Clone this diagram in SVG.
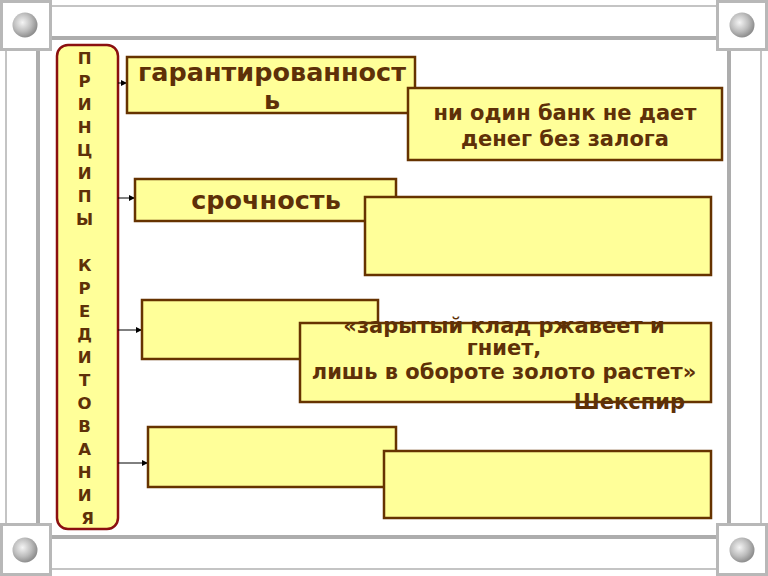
<svg xmlns="http://www.w3.org/2000/svg" width="768" height="576" viewBox="0 0 768 576">
<defs>
<radialGradient id="ball" cx="0.4" cy="0.4" r="0.6">
<stop offset="0" stop-color="#f4f4f4"/>
<stop offset="0.6" stop-color="#bdbdbd"/>
<stop offset="1" stop-color="#8f8f8f"/>
</radialGradient>
<marker id="arr" viewBox="0 0 6 6" refX="6" refY="3" markerWidth="6" markerHeight="6" markerUnits="userSpaceOnUse" orient="auto">
<path d="M0,0 L6,3 L0,6 Z" fill="#000"/>
</marker>
<style>
.thin{stroke:#c4c4c4;stroke-width:2;fill:none}
.thick{stroke:#adadad;stroke-width:4;fill:none}
.corner{fill:#fff;stroke:#b8b8b8;stroke-width:3}
.box{fill:#ffff99;stroke:#663300;stroke-width:2.5}
.t{font-family:"DejaVu Sans",Verdana,sans-serif;font-weight:bold;fill:#5e3008;text-anchor:middle}
.col{font-size:16.5px}
.big{font-size:25.5px}
.mid{font-size:21px}
.conn{stroke:#000;stroke-width:1;fill:none;marker-end:url(#arr)}
</style>
</defs>
<rect width="768" height="576" fill="#fff"/>
<g id="frame">
<line class="thin" x1="52" y1="6" x2="717" y2="6"/>
<line class="thick" x1="52" y1="38" x2="717" y2="38"/>
<line class="thick" x1="52" y1="537" x2="717" y2="537"/>
<line class="thin" x1="52" y1="569" x2="717" y2="569"/>
<line class="thin" x1="6" y1="50" x2="6" y2="524"/>
<line class="thick" x1="38" y1="50" x2="38" y2="524"/>
<line class="thick" x1="729" y1="50" x2="729" y2="524"/>
<line class="thin" x1="761" y1="50" x2="761" y2="524"/>
<rect class="corner" x="1.5" y="1.5" width="49" height="48"/>
<circle cx="25" cy="25" r="12.5" fill="url(#ball)"/>
<rect class="corner" x="717.5" y="1.5" width="49" height="48"/>
<circle cx="742" cy="25" r="12.5" fill="url(#ball)"/>
<rect class="corner" x="1.5" y="524.5" width="49" height="50"/>
<circle cx="25" cy="550" r="12.5" fill="url(#ball)"/>
<rect class="corner" x="717.5" y="524.5" width="49" height="50"/>
<circle cx="742" cy="550" r="12.5" fill="url(#ball)"/>
</g>
<g id="principles">
<rect x="57" y="45" width="61" height="484" rx="11" ry="11" fill="#ffff99" stroke="#8b1010" stroke-width="2.5"/>
<text class="t col" x="87.5">
<tspan x="87.5" y="64">П</tspan>
<tspan x="87.5" y="87">Р</tspan>
<tspan x="87.5" y="110">И</tspan>
<tspan x="87.5" y="133">Н</tspan>
<tspan x="87.5" y="156">Ц</tspan>
<tspan x="87.5" y="179">И</tspan>
<tspan x="87.5" y="202">П</tspan>
<tspan x="87.5" y="225">Ы</tspan>
<tspan x="87.5" y="271">К</tspan>
<tspan x="87.5" y="294">Р</tspan>
<tspan x="87.5" y="317">Е</tspan>
<tspan x="87.5" y="340">Д</tspan>
<tspan x="87.5" y="363">И</tspan>
<tspan x="87.5" y="386">Т</tspan>
<tspan x="87.5" y="409">О</tspan>
<tspan x="87.5" y="432">В</tspan>
<tspan x="87.5" y="455">А</tspan>
<tspan x="87.5" y="478">Н</tspan>
<tspan x="87.5" y="501">И</tspan>
<tspan x="87.5" y="524">Я</tspan>
</text>
</g>
<g id="connectors">
<line class="conn" x1="118" y1="83" x2="127" y2="83"/>
<line class="conn" x1="118" y1="198" x2="135" y2="198"/>
<line class="conn" x1="118" y1="330" x2="142" y2="330"/>
<line class="conn" x1="118" y1="463" x2="148" y2="463"/>
</g>
<g id="guarantee">
<rect class="box" x="127" y="57" width="288" height="56"/>
<text class="t big" x="272" y="81">гарантированност</text>
<text class="t big" x="272" y="109">ь</text>
</g>
<g id="guarantee-note">
<rect class="box" x="408" y="88" width="314" height="72"/>
<text class="t mid" x="565" y="120">ни один банк не дает</text>
<text class="t mid" x="565" y="146">денег без залога</text>
</g>
<g id="urgency">
<rect class="box" x="135" y="179" width="261" height="42"/>
<text class="t big" x="266" y="209">срочность</text>
</g>
<g id="urgency-note">
<rect class="box" x="365" y="197" width="346" height="78"/>
</g>
<g id="third">
<rect class="box" x="142" y="300" width="236" height="59"/>
</g>
<g id="third-note">
<rect class="box" x="300" y="323" width="411" height="79"/>
<text class="t mid" x="504" y="333">«зарытый клад ржавеет и</text>
<text class="t mid" x="504" y="355">гниет,</text>
<text class="t mid" x="504" y="379">лишь в обороте золото растет»</text>
<text class="t mid" x="685" y="409" style="text-anchor:end">Шекспир</text>
</g>
<g id="fourth">
<rect class="box" x="148" y="427" width="248" height="60"/>
</g>
<g id="fourth-note">
<rect class="box" x="384" y="451" width="327" height="67"/>
</g>
</svg>
